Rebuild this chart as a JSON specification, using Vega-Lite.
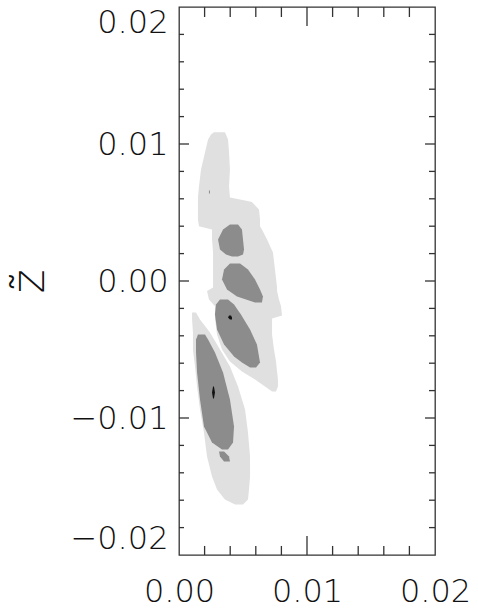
{
  "$schema": "https://vega.github.io/schema/vega-lite/v6.json",
  "width": 256,
  "height": 548,
  "autosize": {"type": "none"},
  "padding": {"left": 179, "top": 7, "right": 43, "bottom": 61},
  "background": "white",
  "view": {"stroke": "#333333", "strokeWidth": 1.3},
  "config": {
    "font": "DejaVu Sans",
    "axis": {
      "grid": false,
      "domain": false,
      "ticks": false,
      "labelColor": "#111111",
      "labelFont": "DejaVu Sans",
      "labelFontWeight": 200,
      "labelFontSize": 32,
      "titleFont": "DejaVu Sans",
      "titleFontWeight": 300,
      "titleColor": "#111111",
      "labelOverlap": false,
      "labelBound": false
    }
  },
  "datasets": {
    "contours": [
      {"blob": "u", "level": "light", "z": 0.01086, "lo": 0.00273, "hi": 0.00359},
      {"blob": "u", "level": "light", "z": 0.01069, "lo": 0.00250, "hi": 0.00367},
      {"blob": "u", "level": "light", "z": 0.01033, "lo": 0.00227, "hi": 0.00383},
      {"blob": "u", "level": "light", "z": 0.00938, "lo": 0.00203, "hi": 0.00391},
      {"blob": "u", "level": "light", "z": 0.00814, "lo": 0.00172, "hi": 0.00398},
      {"blob": "u", "level": "light", "z": 0.00690, "lo": 0.00156, "hi": 0.00391},
      {"blob": "u", "level": "light", "z": 0.00609, "lo": 0.00148, "hi": 0.00398},
      {"blob": "u", "level": "light", "z": 0.00588, "lo": 0.00148, "hi": 0.00516},
      {"blob": "u", "level": "light", "z": 0.00577, "lo": 0.00148, "hi": 0.00570},
      {"blob": "u", "level": "light", "z": 0.00522, "lo": 0.00148, "hi": 0.00625},
      {"blob": "u", "level": "light", "z": 0.00449, "lo": 0.00148, "hi": 0.00633},
      {"blob": "u", "level": "light", "z": 0.00400, "lo": 0.00156, "hi": 0.00633},
      {"blob": "u", "level": "light", "z": 0.00376, "lo": 0.00258, "hi": 0.00648},
      {"blob": "u", "level": "light", "z": 0.00303, "lo": 0.00258, "hi": 0.00688},
      {"blob": "u", "level": "light", "z": 0.00208, "lo": 0.00266, "hi": 0.00734},
      {"blob": "u", "level": "light", "z": 0.00084, "lo": 0.00266, "hi": 0.00750},
      {"blob": "u", "level": "light", "z": -0.00047, "lo": 0.00266, "hi": 0.00766},
      {"blob": "u", "level": "light", "z": -0.00073, "lo": 0.00219, "hi": 0.00766},
      {"blob": "u", "level": "light", "z": -0.00135, "lo": 0.00234, "hi": 0.00781},
      {"blob": "u", "level": "light", "z": -0.00184, "lo": 0.00281, "hi": 0.00797},
      {"blob": "u", "level": "light", "z": -0.00252, "lo": 0.00281, "hi": 0.00805},
      {"blob": "u", "level": "light", "z": -0.00274, "lo": 0.00281, "hi": 0.00727},
      {"blob": "u", "level": "light", "z": -0.00391, "lo": 0.00297, "hi": 0.00727},
      {"blob": "u", "level": "light", "z": -0.00500, "lo": 0.00336, "hi": 0.00742},
      {"blob": "u", "level": "light", "z": -0.00588, "lo": 0.00398, "hi": 0.00758},
      {"blob": "u", "level": "light", "z": -0.00661, "lo": 0.00492, "hi": 0.00766},
      {"blob": "u", "level": "light", "z": -0.00719, "lo": 0.00594, "hi": 0.00773},
      {"blob": "u", "level": "light", "z": -0.00770, "lo": 0.00672, "hi": 0.00773},
      {"blob": "u", "level": "light", "z": -0.00807, "lo": 0.00727, "hi": 0.00758},

      {"blob": "l", "level": "light", "z": -0.00230, "lo": 0.00102, "hi": 0.00133},
      {"blob": "l", "level": "light", "z": -0.00281, "lo": 0.00102, "hi": 0.00164},
      {"blob": "l", "level": "light", "z": -0.00376, "lo": 0.00109, "hi": 0.00242},
      {"blob": "l", "level": "light", "z": -0.00500, "lo": 0.00109, "hi": 0.00320},
      {"blob": "l", "level": "light", "z": -0.00624, "lo": 0.00125, "hi": 0.00398},
      {"blob": "l", "level": "light", "z": -0.00770, "lo": 0.00141, "hi": 0.00461},
      {"blob": "l", "level": "light", "z": -0.00938, "lo": 0.00164, "hi": 0.00516},
      {"blob": "l", "level": "light", "z": -0.01106, "lo": 0.00195, "hi": 0.00539},
      {"blob": "l", "level": "light", "z": -0.01281, "lo": 0.00219, "hi": 0.00555},
      {"blob": "l", "level": "light", "z": -0.01427, "lo": 0.00258, "hi": 0.00555},
      {"blob": "l", "level": "light", "z": -0.01522, "lo": 0.00297, "hi": 0.00547},
      {"blob": "l", "level": "light", "z": -0.01595, "lo": 0.00359, "hi": 0.00539},
      {"blob": "l", "level": "light", "z": -0.01631, "lo": 0.00438, "hi": 0.00500},

      {"blob": "a", "level": "dark", "z": 0.00412, "lo": 0.00398, "hi": 0.00461},
      {"blob": "a", "level": "dark", "z": 0.00376, "lo": 0.00344, "hi": 0.00492},
      {"blob": "a", "level": "dark", "z": 0.00303, "lo": 0.00305, "hi": 0.00500},
      {"blob": "a", "level": "dark", "z": 0.00230, "lo": 0.00320, "hi": 0.00508},
      {"blob": "a", "level": "dark", "z": 0.00193, "lo": 0.00367, "hi": 0.00500},
      {"blob": "a", "level": "dark", "z": 0.00179, "lo": 0.00414, "hi": 0.00461},

      {"blob": "b", "level": "dark", "z": 0.00128, "lo": 0.00398, "hi": 0.00477},
      {"blob": "b", "level": "dark", "z": 0.00084, "lo": 0.00352, "hi": 0.00539},
      {"blob": "b", "level": "dark", "z": 0.00011, "lo": 0.00336, "hi": 0.00594},
      {"blob": "b", "level": "dark", "z": -0.00062, "lo": 0.00375, "hi": 0.00633},
      {"blob": "b", "level": "dark", "z": -0.00113, "lo": 0.00453, "hi": 0.00656},
      {"blob": "b", "level": "dark", "z": -0.00157, "lo": 0.00594, "hi": 0.00648},

      {"blob": "c", "level": "dark", "z": -0.00135, "lo": 0.00320, "hi": 0.00383},
      {"blob": "c", "level": "dark", "z": -0.00172, "lo": 0.00289, "hi": 0.00430},
      {"blob": "c", "level": "dark", "z": -0.00245, "lo": 0.00281, "hi": 0.00484},
      {"blob": "c", "level": "dark", "z": -0.00354, "lo": 0.00297, "hi": 0.00555},
      {"blob": "c", "level": "dark", "z": -0.00464, "lo": 0.00352, "hi": 0.00609},
      {"blob": "c", "level": "dark", "z": -0.00551, "lo": 0.00430, "hi": 0.00625},
      {"blob": "c", "level": "dark", "z": -0.00595, "lo": 0.00492, "hi": 0.00633},
      {"blob": "c", "level": "dark", "z": -0.00631, "lo": 0.00555, "hi": 0.00602},

      {"blob": "d", "level": "dark", "z": -0.00391, "lo": 0.00148, "hi": 0.00203},
      {"blob": "d", "level": "dark", "z": -0.00427, "lo": 0.00133, "hi": 0.00227},
      {"blob": "d", "level": "dark", "z": -0.00522, "lo": 0.00133, "hi": 0.00281},
      {"blob": "d", "level": "dark", "z": -0.00668, "lo": 0.00141, "hi": 0.00344},
      {"blob": "d", "level": "dark", "z": -0.00865, "lo": 0.00164, "hi": 0.00398},
      {"blob": "d", "level": "dark", "z": -0.01062, "lo": 0.00195, "hi": 0.00430},
      {"blob": "d", "level": "dark", "z": -0.01179, "lo": 0.00258, "hi": 0.00422},
      {"blob": "d", "level": "dark", "z": -0.01230, "lo": 0.00336, "hi": 0.00383},

      {"blob": "e", "level": "dark", "z": -0.01245, "lo": 0.00313, "hi": 0.00352},
      {"blob": "e", "level": "dark", "z": -0.01281, "lo": 0.00320, "hi": 0.00391},
      {"blob": "e", "level": "dark", "z": -0.01318, "lo": 0.00352, "hi": 0.00398},

      {"blob": "f", "level": "dark", "z": 0.00661, "lo": 0.00234, "hi": 0.00242},
      {"blob": "f", "level": "dark", "z": 0.00639, "lo": 0.00234, "hi": 0.00242},

      {"blob": "g", "level": "black", "z": -0.00770, "lo": 0.00266, "hi": 0.00273},
      {"blob": "g", "level": "black", "z": -0.00814, "lo": 0.00258, "hi": 0.00281},
      {"blob": "g", "level": "black", "z": -0.00858, "lo": 0.00266, "hi": 0.00273},

      {"blob": "h", "level": "black", "z": -0.00252, "lo": 0.00391, "hi": 0.00406},
      {"blob": "h", "level": "black", "z": -0.00266, "lo": 0.00383, "hi": 0.00414},
      {"blob": "h", "level": "black", "z": -0.00281, "lo": 0.00398, "hi": 0.00414}
    ],
    "tickmarks": [
      {"axis": "x", "kind": "minor", "pos": 0.002},
      {"axis": "x", "kind": "minor", "pos": 0.004},
      {"axis": "x", "kind": "minor", "pos": 0.006},
      {"axis": "x", "kind": "minor", "pos": 0.008},
      {"axis": "x", "kind": "major", "pos": 0.01},
      {"axis": "x", "kind": "minor", "pos": 0.012},
      {"axis": "x", "kind": "minor", "pos": 0.014},
      {"axis": "x", "kind": "minor", "pos": 0.016},
      {"axis": "x", "kind": "minor", "pos": 0.018},
      {"axis": "y", "kind": "minor", "pos": -0.018},
      {"axis": "y", "kind": "minor", "pos": -0.016},
      {"axis": "y", "kind": "minor", "pos": -0.014},
      {"axis": "y", "kind": "minor", "pos": -0.012},
      {"axis": "y", "kind": "major", "pos": -0.01},
      {"axis": "y", "kind": "minor", "pos": -0.008},
      {"axis": "y", "kind": "minor", "pos": -0.006},
      {"axis": "y", "kind": "minor", "pos": -0.004},
      {"axis": "y", "kind": "minor", "pos": -0.002},
      {"axis": "y", "kind": "major", "pos": 0},
      {"axis": "y", "kind": "minor", "pos": 0.002},
      {"axis": "y", "kind": "minor", "pos": 0.004},
      {"axis": "y", "kind": "minor", "pos": 0.006},
      {"axis": "y", "kind": "minor", "pos": 0.008},
      {"axis": "y", "kind": "major", "pos": 0.01},
      {"axis": "y", "kind": "minor", "pos": 0.012},
      {"axis": "y", "kind": "minor", "pos": 0.014},
      {"axis": "y", "kind": "minor", "pos": 0.016},
      {"axis": "y", "kind": "minor", "pos": 0.018}
    ]
  },
  "layer": [
    {
      "data": {"name": "contours"},
      "transform": [{"filter": "datum.level === 'light'"}],
      "mark": {"type": "area", "orient": "horizontal", "color": "#e0e0e0", "opacity": 1},
      "encoding": {
        "y": {
          "field": "z", "type": "quantitative",
          "scale": {"domain": [-0.02, 0.02], "nice": false, "zero": false},
          "axis": {
            "orient": "left",
            "title": "z̃",
            "titleFontSize": 46,
            "titlePadding": 16,
            "values": [-0.02, -0.01, 0, 0.01, 0.02],
            "format": ".2f",
            "labelPadding": 11,
            "labelFlush": true,
            "labelFlushOffset": 0
          }
        },
        "x": {
          "field": "lo", "type": "quantitative",
          "scale": {"domain": [0, 0.02], "nice": false, "zero": false},
          "axis": {
            "orient": "bottom",
            "title": "z̃",
            "titleFontSize": 40,
            "titlePadding": 9,
            "values": [0, 0.01, 0.02],
            "format": ".2f",
            "labelPadding": 21,
            "labelFlush": false
          }
        },
        "x2": {"field": "hi"},
        "detail": {"field": "blob"}
      }
    },
    {
      "data": {"name": "contours"},
      "transform": [{"filter": "datum.level === 'dark'"}],
      "mark": {"type": "area", "orient": "horizontal", "color": "#8c8c8c", "opacity": 1},
      "encoding": {
        "y": {"field": "z", "type": "quantitative"},
        "x": {"field": "lo", "type": "quantitative"},
        "x2": {"field": "hi"},
        "detail": {"field": "blob"}
      }
    },
    {
      "data": {"name": "contours"},
      "transform": [{"filter": "datum.level === 'black'"}],
      "mark": {"type": "area", "orient": "horizontal", "color": "#111111", "opacity": 1},
      "encoding": {
        "y": {"field": "z", "type": "quantitative"},
        "x": {"field": "lo", "type": "quantitative"},
        "x2": {"field": "hi"},
        "detail": {"field": "blob"}
      }
    },
    {
      "data": {"name": "tickmarks"},
      "transform": [{"filter": "datum.axis === 'x' && datum.kind === 'minor'"}],
      "mark": {"type": "rule", "color": "#333333", "strokeWidth": 1.3},
      "encoding": {"x": {"field": "pos", "type": "quantitative"}, "y": {"datum": 0.02, "type": "quantitative"}, "y2": {"datum": 0.01927}}
    },
    {
      "data": {"name": "tickmarks"},
      "transform": [{"filter": "datum.axis === 'x' && datum.kind === 'major'"}],
      "mark": {"type": "rule", "color": "#333333", "strokeWidth": 1.3},
      "encoding": {"x": {"field": "pos", "type": "quantitative"}, "y": {"datum": 0.02, "type": "quantitative"}, "y2": {"datum": 0.01861}}
    },
    {
      "data": {"name": "tickmarks"},
      "transform": [{"filter": "datum.axis === 'x' && datum.kind === 'minor'"}],
      "mark": {"type": "rule", "color": "#333333", "strokeWidth": 1.3},
      "encoding": {"x": {"field": "pos", "type": "quantitative"}, "y": {"datum": -0.02, "type": "quantitative"}, "y2": {"datum": -0.01934}}
    },
    {
      "data": {"name": "tickmarks"},
      "transform": [{"filter": "datum.axis === 'x' && datum.kind === 'major'"}],
      "mark": {"type": "rule", "color": "#333333", "strokeWidth": 1.3},
      "encoding": {"x": {"field": "pos", "type": "quantitative"}, "y": {"datum": -0.02, "type": "quantitative"}, "y2": {"datum": -0.01861}}
    },
    {
      "data": {"name": "tickmarks"},
      "transform": [{"filter": "datum.axis === 'y' && datum.kind === 'minor'"}],
      "mark": {"type": "rule", "color": "#333333", "strokeWidth": 1.3},
      "encoding": {"y": {"field": "pos", "type": "quantitative"}, "x": {"datum": 0, "type": "quantitative"}, "x2": {"datum": 0.00039}}
    },
    {
      "data": {"name": "tickmarks"},
      "transform": [{"filter": "datum.axis === 'y' && datum.kind === 'major'"}],
      "mark": {"type": "rule", "color": "#333333", "strokeWidth": 1.3},
      "encoding": {"y": {"field": "pos", "type": "quantitative"}, "x": {"datum": 0, "type": "quantitative"}, "x2": {"datum": 0.00078}}
    },
    {
      "data": {"name": "tickmarks"},
      "transform": [{"filter": "datum.axis === 'y' && datum.kind === 'minor'"}],
      "mark": {"type": "rule", "color": "#333333", "strokeWidth": 1.3},
      "encoding": {"y": {"field": "pos", "type": "quantitative"}, "x": {"datum": 0.02, "type": "quantitative"}, "x2": {"datum": 0.01953}}
    },
    {
      "data": {"name": "tickmarks"},
      "transform": [{"filter": "datum.axis === 'y' && datum.kind === 'major'"}],
      "mark": {"type": "rule", "color": "#333333", "strokeWidth": 1.3},
      "encoding": {"y": {"field": "pos", "type": "quantitative"}, "x": {"datum": 0.02, "type": "quantitative"}, "x2": {"datum": 0.01922}}
    }
  ]
}
